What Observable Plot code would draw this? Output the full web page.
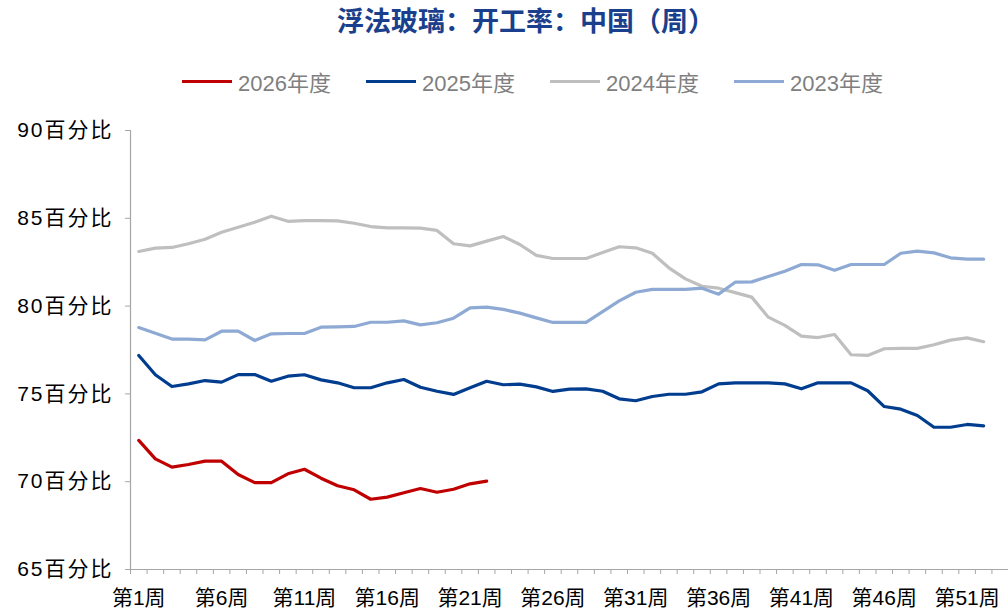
<!DOCTYPE html>
<html>
<head>
<meta charset="utf-8">
<script src="https://cdn.jsdelivr.net/npm/d3@7"></script>
<script src="https://cdn.jsdelivr.net/npm/@observablehq/plot@0.6"></script>
<style>
  html, body { margin: 0; padding: 0; background: #fff; width: 1008px; height: 609px; overflow: hidden; }
  #title { position: absolute; left: 0; top: 0px; width: 1052px; text-align: center;
    font-family: "Noto Sans CJK SC", sans-serif; font-weight: bold; font-size: 27px; color: #1a3f8c; }
  #legend { position: absolute; left: 182px; top: 65px; display: flex;
    font-family: "Liberation Sans", "Noto Sans CJK SC", sans-serif; font-size: 22px; color: #7f7f7f; }
  .item { display: flex; align-items: center; width: 184px; }
  .swatch { width: 50px; height: 3px; margin-right: 6px; }
  #chart { position: absolute; left: 0; top: 110px; }
  .ylab text { letter-spacing: 2px; }
</style>
</head>
<body>
<div id="title">浮法玻璃：开工率：中国（周）</div>
<div id="legend"></div>
<div id="chart"></div>
<script>
const seriesNames = ["2026年度", "2025年度", "2024年度", "2023年度"];
const seriesColors = ["#c00000", "#003d8f", "#bfbfbf", "#8eaad4"];

const y2026 = [72.35, 71.30, 70.83, 70.98, 71.17, 71.17, 70.41, 69.95, 69.95, 70.45, 70.71, 70.20, 69.77, 69.54, 69.00, 69.12, 69.37, 69.61, 69.40, 69.57, 69.88, 70.03];

const y2025 = [77.19, 76.09, 75.42, 75.57, 75.76, 75.67, 76.10, 76.10, 75.72, 76.01, 76.09, 75.80, 75.63, 75.35, 75.35, 75.63, 75.82, 75.38, 75.15, 74.97, 75.35, 75.72, 75.52, 75.56, 75.40, 75.14, 75.27, 75.29, 75.15, 74.72, 74.61, 74.85, 74.98, 74.98, 75.12, 75.57, 75.63, 75.63, 75.63, 75.57, 75.29, 75.63, 75.63, 75.63, 75.18, 74.28, 74.13, 73.77, 73.10, 73.10, 73.26, 73.18];

const y2024 = [83.11, 83.30, 83.34, 83.55, 83.81, 84.21, 84.49, 84.78, 85.12, 84.83, 84.87, 84.87, 84.85, 84.72, 84.53, 84.46, 84.46, 84.44, 84.31, 83.55, 83.43, 83.70, 83.96, 83.51, 82.89, 82.71, 82.71, 82.71, 83.05, 83.38, 83.32, 83.01, 82.18, 81.55, 81.13, 81.02, 80.77, 80.51, 79.37, 78.90, 78.29, 78.21, 78.38, 77.23, 77.19, 77.57, 77.59, 77.59, 77.80, 78.06, 78.19, 77.97];

const y2023 = [78.78, 78.46, 78.12, 78.12, 78.08, 78.57, 78.57, 78.04, 78.42, 78.44, 78.44, 78.80, 78.82, 78.84, 79.08, 79.08, 79.16, 78.93, 79.05, 79.31, 79.90, 79.94, 79.81, 79.60, 79.33, 79.07, 79.07, 79.07, 79.69, 80.30, 80.79, 80.95, 80.95, 80.95, 81.02, 80.68, 81.36, 81.38, 81.69, 81.99, 82.37, 82.35, 82.04, 82.37, 82.37, 82.37, 83.01, 83.13, 83.03, 82.75, 82.67, 82.67];

const weekLabels = [1, 6, 11, 16, 21, 26, 31, 36, 41, 46, 51];
const yTicks = [65, 70, 75, 80, 85, 90];

const seriesValues = [y2026, y2025, y2024, y2023];
const rows = [];
seriesValues.forEach((vals, i) => {
  vals.forEach((v, j) => rows.push({series: seriesNames[i], week: j + 1, value: v}));
});

// legend
const legend = document.getElementById("legend");
seriesNames.forEach((name, i) => {
  const item = document.createElement("div");
  item.className = "item";
  const sw = document.createElement("div");
  sw.className = "swatch";
  sw.style.background = seriesColors[i];
  const label = document.createElement("span");
  label.textContent = name;
  item.appendChild(sw);
  item.appendChild(label);
  legend.appendChild(item);
});

const axisColor = "#a6a6a6";
const chart = Plot.plot({
  width: 1008,
  height: 499,
  marginTop: 20,
  marginBottom: 40,
  marginLeft: 130,
  marginRight: 0,
  style: {fontFamily: "'Liberation Sans', 'Noto Sans CJK SC', sans-serif", fontSize: "20px", color: "#000", background: "transparent"},
  x: {type: "linear", domain: [0.5, 53.5]},
  y: {domain: [65, 90]},
  color: {domain: seriesNames, range: seriesColors},
  marks: [
    Plot.ruleX([0.5], {stroke: axisColor, strokeWidth: 1.2}),
    Plot.ruleY([65], {stroke: axisColor, strokeWidth: 1.2}),
    Plot.axisY({ticks: yTicks, tickSize: 5, tickPadding: 12, stroke: axisColor, fill: "#000",
      tickFormat: d => d + "百分比", fontSize: 21, label: null, className: "ylab"}),
    Plot.axisX({ticks: d3.range(0.5, 53.6, 1), tickSize: 5, stroke: axisColor, tickFormat: () => "", label: null}),
    Plot.axisX({ticks: weekLabels, tickSize: 0, tickPadding: 21, fill: "#000",
      tickFormat: d => `第${d}周`, fontSize: 21, label: null}),
    Plot.line(rows, {x: "week", y: "value", z: "series", stroke: "series", strokeWidth: 3.2,
      strokeLinejoin: "round", strokeLinecap: "round"})
  ]
});
document.getElementById("chart").appendChild(chart);
</script>
</body>
</html>
